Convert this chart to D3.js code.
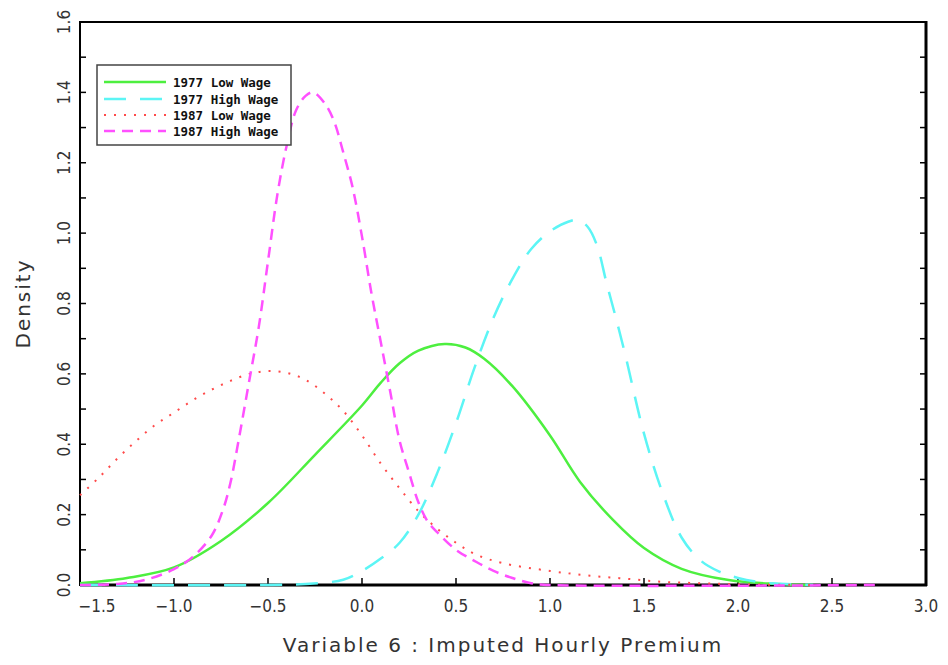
<!DOCTYPE html>
<html lang="en">
<head>
<meta charset="UTF-8">
<title>Density</title>
<script src="https://d3js.org/d3.v7.min.js"></script>
<style>
  body { margin: 0; background: #fff; }
  .tick-label { font-family: "DejaVu Sans Condensed", "DejaVu Sans", sans-serif; font-size: 17px; fill: #333; }
  .axis-title { font-family: "DejaVu Sans", sans-serif; font-size: 20px; fill: #333; letter-spacing: 2px; }
  .legend-text { font-family: "DejaVu Sans Mono", monospace; font-size: 12.5px; font-weight: bold; fill: #111; }
</style>
</head>
<body>
<svg id="chart" width="948" height="665"></svg>
<script>
// series names for the legend
var seriesNames = ["1977 Low Wage", "1977 High Wage", "1987 Low Wage", "1987 High Wage"];

// [x, density]
var low1977 = [[-1.5,0.005],[-1.25,0.02],[-1.0,0.05],[-0.75,0.125],[-0.5,0.233],[-0.25,0.37],
  [0.0,0.51],[0.1,0.575],[0.2,0.63],[0.3,0.666],[0.44,0.685],[0.55,0.675],[0.65,0.643],[0.8,0.565],
  [1.0,0.425],[1.16,0.293],[1.335,0.185],[1.5,0.105],[1.7,0.046],[1.95,0.014],[2.2,0.003],[2.4,0]];

var high1977 = [[-1.5,0],[-0.5,0],[-0.3,0.003],[-0.1,0.015],[0.0,0.04],[0.1,0.075],[0.2,0.12],
  [0.3,0.2],[0.4,0.318],[0.5,0.46],[0.6,0.62],[0.7,0.76],[0.8,0.87],[0.9,0.955],[1.0,1.005],
  [1.1,1.033],[1.15,1.037],[1.2,1.018],[1.25,0.965],[1.3,0.86],[1.35,0.76],[1.4,0.655],
  [1.5,0.43],[1.6,0.26],[1.7,0.135],[1.8,0.07],[1.9,0.038],[2.0,0.02],[2.1,0.009],[2.2,0.004],[2.4,0]];

var low1987 = [[-1.5,0.255],[-1.4,0.305],[-1.3,0.36],[-1.2,0.41],[-1.1,0.455],[-1.0,0.49],
  [-0.9,0.525],[-0.8,0.555],[-0.7,0.58],[-0.6,0.6],[-0.5,0.608],[-0.4,0.603],[-0.3,0.583],
  [-0.2,0.545],[-0.1,0.495],[0.0,0.425],[0.1,0.345],[0.2,0.275],[0.3,0.21],[0.4,0.16],
  [0.5,0.12],[0.6,0.088],[0.75,0.062],[1.0,0.04],[1.2,0.027],[1.4,0.018],[1.6,0.009],
  [1.8,0.005],[2.0,0.002],[2.4,0]];

var high1987 = [[-1.5,0],[-1.3,0.003],[-1.15,0.015],[-1.0,0.045],[-0.9,0.08],[-0.8,0.14],
  [-0.74,0.213],[-0.7,0.29],[-0.65,0.43],[-0.6,0.58],[-0.55,0.73],[-0.5,0.92],[-0.45,1.11],
  [-0.4,1.25],[-0.35,1.35],[-0.3,1.39],[-0.26,1.40],[-0.2,1.37],[-0.15,1.32],[-0.1,1.23],
  [-0.05,1.13],[0.0,0.99],[0.05,0.83],[0.1,0.69],[0.15,0.55],[0.2,0.41],[0.25,0.32],
  [0.3,0.235],[0.35,0.18],[0.4,0.15],[0.5,0.1],[0.6,0.068],[0.7,0.04],[0.8,0.02],
  [0.9,0.005],[1.0,0],[2.75,0]];

var xTicks = [-1.5, -1.0, -0.5, 0.0, 0.5, 1.0, 1.5, 2.0, 2.5, 3.0];
var yTicks = [0.0, 0.2, 0.4, 0.6, 0.8, 1.0, 1.2, 1.4, 1.6];

var svg = d3.select("#chart");
var plotL = 80, plotR = 926, plotT = 22, plotB = 585;

var x = d3.scaleLinear().domain([-1.5, 3.0]).range([plotL, plotR]);
var y = d3.scaleLinear().domain([0, 1.6]).range([plotB, plotT]);

// frame
svg.append("line").attr("x1", plotL).attr("x2", plotR).attr("y1", plotT).attr("y2", plotT)
  .attr("stroke", "#000").attr("stroke-width", 2);
svg.append("line").attr("x1", plotL).attr("x2", plotL).attr("y1", plotT - 1).attr("y2", plotB + 1)
  .attr("stroke", "#000").attr("stroke-width", 2);
svg.append("line").attr("x1", plotR).attr("x2", plotR).attr("y1", plotT - 1).attr("y2", plotB + 1)
  .attr("stroke", "#000").attr("stroke-width", 3);
svg.append("line").attr("x1", plotL).attr("x2", plotR + 1).attr("y1", plotB).attr("y2", plotB)
  .attr("stroke", "#000").attr("stroke-width", 3);

// y ticks every 0.1 on both sides, pointing inward
var yMinor = d3.range(1, 16).map(d => d / 10);
svg.selectAll(".ytickL").data(yMinor).join("line")
  .attr("x1", plotL).attr("x2", plotL + 6)
  .attr("y1", d => y(d)).attr("y2", d => y(d))
  .attr("stroke", "#000").attr("stroke-width", 1.5);
svg.selectAll(".ytickR").data(yMinor).join("line")
  .attr("x1", plotR - 6).attr("x2", plotR)
  .attr("y1", d => y(d)).attr("y2", d => y(d))
  .attr("stroke", "#000").attr("stroke-width", 1.5);

// x ticks pointing up
svg.selectAll(".xtick").data(xTicks.slice(1, -1)).join("line")
  .attr("x1", d => x(d)).attr("x2", d => x(d))
  .attr("y1", plotB).attr("y2", plotB - 7)
  .attr("stroke", "#000").attr("stroke-width", 1.5);

// x labels
svg.selectAll(".xlab").data(xTicks).join("text")
  .attr("class", "tick-label")
  .attr("x", (d, i) => i == 0 ? x(d) + 17 : x(d))
  .attr("y", 612)
  .attr("text-anchor", "middle")
  .text(d => d3.format(".1f")(d).replace("-", "\u2212"));

// y labels, rotated
svg.selectAll(".ylab").data(yTicks).join("text")
  .attr("class", "tick-label")
  .attr("text-anchor", "middle")
  .attr("transform", d => "translate(70," + y(d) + ") rotate(-90)")
  .text(d => d3.format(".1f")(d));

// axis titles
svg.append("text").attr("class", "axis-title")
  .attr("x", (plotL + plotR) / 2).attr("y", 652)
  .attr("text-anchor", "middle")
  .text("Variable 6 : Imputed Hourly Premium");
svg.append("text").attr("class", "axis-title")
  .attr("text-anchor", "middle")
  .attr("transform", "translate(30," + (plotT + plotB) / 2 + ") rotate(-90)")
  .text("Density");

// curves
var line = d3.line().x(d => x(d[0])).y(d => y(Math.max(0, d[1])))
  .curve(d3.curveCatmullRom.alpha(0.5));

var styles = [
  {data: low1977,  color: "#4def3f", dash: null,    width: 2.5},
  {data: high1977, color: "#5cf5f5", dash: "22,14", width: 2.5},
  {data: low1987,  color: "#ff4a4a", dash: "2,8",   width: 2},
  {data: high1987, color: "#ff50ff", dash: "11,7",  width: 2.5}
];

svg.selectAll(".curve").data(styles).join("path")
  .attr("class", "curve")
  .attr("d", d => line(d.data))
  .attr("fill", "none")
  .attr("stroke", d => d.color)
  .attr("stroke-width", d => d.width)
  .attr("stroke-dasharray", d => d.dash);

// legend
var legend = svg.append("g");
legend.append("rect").attr("x", 97).attr("y", 65).attr("width", 194).attr("height", 80)
  .attr("fill", "#fff").attr("stroke", "#444").attr("stroke-width", 1.5);
var rowY = [82, 99, 115, 131];
legend.selectAll(".lline").data(styles).join("line")
  .attr("x1", 104).attr("x2", 166)
  .attr("y1", (d, i) => rowY[i]).attr("y2", (d, i) => rowY[i])
  .attr("stroke", d => d.color)
  .attr("stroke-width", d => d.width)
  .attr("stroke-dasharray", d => d.dash);
legend.selectAll(".ltext").data(seriesNames).join("text")
  .attr("class", "legend-text")
  .attr("x", 173).attr("y", (d, i) => rowY[i] + 4.5)
  .text(d => d);
</script>
</body>
</html>
